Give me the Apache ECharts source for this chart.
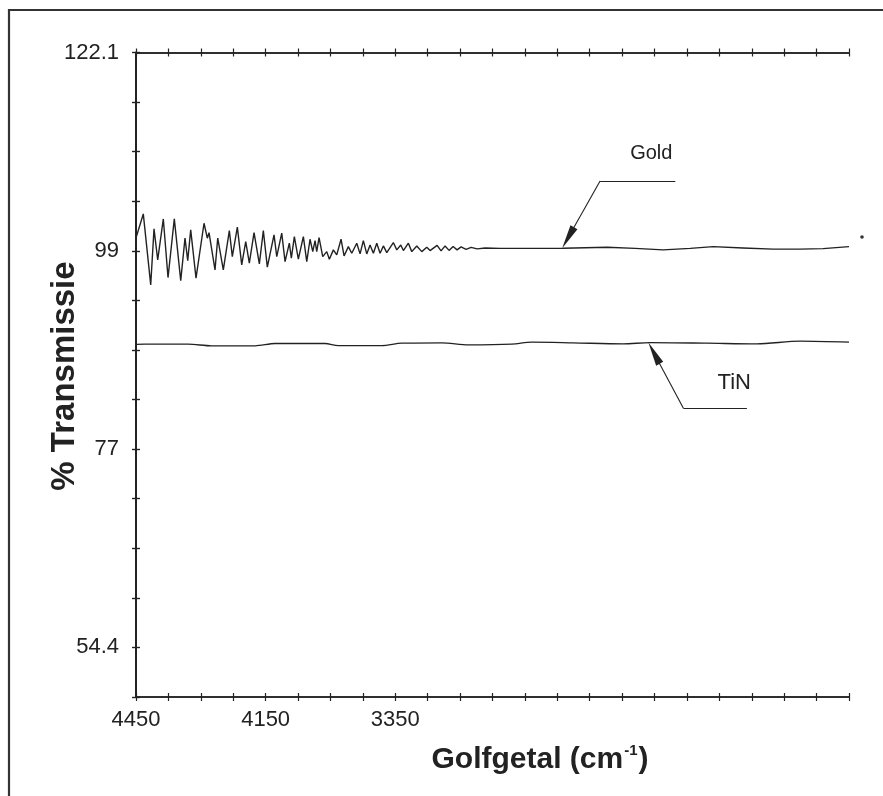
<!DOCTYPE html>
<html><head><meta charset="utf-8">
<script src="https://cdn.jsdelivr.net/npm/echarts@6/dist/echarts.min.js"></script>
<style>html,body{margin:0;padding:0;background:#fff}#c{width:883px;height:796px}</style>
</head><body><div id="c"></div>
<script>
// x axis: position in tick units (22 tick intervals), labelled ticks only at 0, 4, 8
const xTickPos = [0, 4, 8];
const xTickLabels = ['4450', '4150', '3350'];
// y axis: 13 tick intervals, labels at ticks 0,4,8,12 from top
const yTickLabels = ['122.1', '99', '77', '54.4'];
const yTop = 122.1, yLabelBottom = 54.4;

const goldX = [0.00,0.225,0.454,0.556,0.670,0.843,0.988,1.182,1.380,1.512,
  1.596,1.688,1.852,2.099,2.201,2.253,2.438,2.522,2.694,2.880,
  2.972,3.127,3.262,3.386,3.497,3.642,3.806,3.929,4.052,4.259,
  4.343,4.497,4.599,4.731,4.793,4.886,5.009,5.164,5.269,5.370,
  5.454,5.525,5.577,5.648,5.762,5.886,5.966,6.090,6.194,6.327,
  6.420,6.552,6.657,6.812,6.914,7.015,7.120,7.222,7.324,7.429,
  7.531,7.633,7.738,7.941,8.046,8.170,8.250,8.404,8.509,8.664,
  8.818,8.972,9.074,9.290,9.414,9.537,9.660,9.784,9.907,10.031,
  10.185,10.340,10.525,10.772,11.235,12.160,13.179,14.537,15.40,16.265,
  17.10,17.81,18.73,19.66,20.49,21.20,22.0];
const goldY = [101.00,103.73,95.66,102.03,98.50,103.16,96.49,103.16,96.14,100.97,
  98.42,101.91,96.42,102.67,100.97,101.60,97.36,100.97,97.36,101.83,
  98.87,102.22,97.93,100.58,98.12,101.60,98.04,101.83,97.67,101.34,
  98.87,101.54,98.31,100.40,98.69,101.15,98.58,101.15,98.31,100.85,
  99.44,100.69,99.44,101.04,98.87,99.44,98.58,99.64,99.07,100.85,
  98.95,100.01,99.26,100.40,99.18,100.69,99.18,100.20,99.26,100.40,
  99.26,100.09,99.33,100.47,99.64,100.20,99.56,100.40,99.44,100.09,
  99.44,99.94,99.56,100.15,99.52,100.09,99.58,100.03,99.64,99.98,
  99.70,99.92,99.75,99.86,99.81,99.81,99.83,99.94,99.81,99.64,
  99.81,100.01,99.86,99.72,99.72,99.78,100.01];

const tinX = [0,0.278,1.605,2.336,3.673,4.290,5.833,6.244,7.583,8.201,9.435,10.256,11.596,12.213,13.488,15.031,15.864,17.614,19.157,20.494,22.0];
const tinY = [88.89,88.91,88.91,88.72,88.72,88.98,88.98,88.75,88.75,89.02,89.06,88.83,88.91,89.14,89.06,88.94,89.09,89.02,88.94,89.25,89.14];

// annotations (data coordinates): elbow, tip, end of the leader line
const goldArrow = [[14.32,107.48],[13.15,99.83],[16.64,107.48]];
const goldText = [15.90,110.56];
const tinArrow = [[16.89,81.63],[15.81,89.09],[18.85,81.63]];
const tinText = [18.46,84.51];

const yStep = (yTop - yLabelBottom) / 12;
const yMin = yTop - 13 * yStep;
const yTicks = [];
for (let k = 0; k <= 13; k++) yTicks.push(yTop - k * yStep);
const yLabelVals = [0,4,8,12].map(k => yTop - k * yStep);

const INK = '#222';
const sans = '"Liberation Sans", Arial, sans-serif';

function xAx(grid, pos, inside, labels) {
  return {
    type: 'value', gridIndex: grid, position: pos, min: 0, max: 22, interval: 1,
    axisLine: { show: true, lineStyle: { color: INK, width: 1.5 } },
    axisTick: { show: true, inside: inside, length: 4, lineStyle: { color: INK, width: 1.2 } },
    splitLine: { show: false },
    axisLabel: labels ? {
      show: true, interval: 0, margin: 12, color: INK, fontFamily: sans, fontSize: 22,
      showMinLabel: true, showMaxLabel: true,
      formatter: v => { const r = Math.round(v); const i = xTickPos.indexOf(r); return (i >= 0 && Math.abs(v - r) < 1e-6) ? xTickLabels[i] : ''; }
    } : { show: false }
  };
}
function yAx(grid, pos, inside, labels) {
  return {
    type: 'value', gridIndex: grid, position: pos, min: yMin, max: yTop,
    axisLine: { show: true, lineStyle: { color: INK, width: 1.5 } },
    axisTick: { show: true, inside: inside, length: 4, customValues: yTicks, lineStyle: { color: INK, width: 1.2 } },
    splitLine: { show: false },
    axisLabel: labels ? {
      show: true, margin: 17, color: INK, fontFamily: sans, fontSize: 22,
      customValues: yLabelVals,
      formatter: v => { let best = 0, d = 1e9; yLabelVals.forEach((lv, i) => { if (Math.abs(lv - v) < d) { d = Math.abs(lv - v); best = i; } }); return yTickLabels[best]; }
    } : { show: false }
  };
}

const gridRect = { left: 136, top: 52.5, width: 713, height: 644.5 };
const chart = echarts.init(document.getElementById('c'), null, { renderer: 'canvas' });

chart.setOption({
  animation: false,
  backgroundColor: '#fff',
  grid: [Object.assign({}, gridRect), Object.assign({}, gridRect)],
  xAxis: [xAx(0, 'bottom', false, true), xAx(0, 'top', false, false), xAx(1, 'bottom', true, false), xAx(1, 'top', true, false)],
  yAxis: [yAx(0, 'left', false, true), yAx(0, 'right', false, false), yAx(1, 'left', true, false), yAx(1, 'right', true, false)],
  series: [
    {
      name: 'Gold', type: 'line', xAxisIndex: 0, yAxisIndex: 0, showSymbol: false, symbol: 'none',
      data: goldX.map((x, i) => [x, goldY[i]]),
      lineStyle: { color: INK, width: 1.4 }
    },
    {
      name: 'TiN', type: 'line', xAxisIndex: 0, yAxisIndex: 0, showSymbol: false, symbol: 'none',
      smooth: 0.3,
      data: tinX.map((x, i) => [x, tinY[i]]),
      lineStyle: { color: INK, width: 1.35 }
    }
  ]
});

const ref = { xAxisIndex: 0, yAxisIndex: 0 };
const ARROW_LEN = 24;
// pull the arrow end back so the triangle's tip (not its centre) lands on the curve
function arrowLine(a) {
  const e = chart.convertToPixel(ref, a[0]);
  const t = chart.convertToPixel(ref, a[1]);
  const dx = t[0] - e[0], dy = t[1] - e[1], L = Math.hypot(dx, dy);
  const c = chart.convertFromPixel(ref, [t[0] - dx / L * ARROW_LEN / 2, t[1] - dy / L * ARROW_LEN / 2]);
  return [
    [{ coord: a[0], symbol: 'none' }, { coord: c, symbol: 'triangle', symbolSize: [8, ARROW_LEN] }],
    [{ coord: a[0], symbol: 'none' }, { coord: a[2], symbol: 'none' }]
  ];
}

const gp = chart.convertToPixel(ref, goldText);
const tp = chart.convertToPixel(ref, tinText);

chart.setOption({
  series: [{
    markLine: {
      silent: true, animation: false, label: { show: false },
      lineStyle: { color: INK, width: 1.1, type: 'solid' },
      itemStyle: { color: INK },
      data: arrowLine(goldArrow).concat(arrowLine(tinArrow))
    }
  }],
  graphic: [
    { type: 'polyline', silent: true, shape: { points: [[9, 796], [9, 10], [883, 10]] }, style: { stroke: '#333', lineWidth: 2.2, fill: null } },
    { type: 'text', silent: true, x: gp[0], y: gp[1], style: { text: 'Gold', font: '20px ' + sans, fill: INK, align: 'center', verticalAlign: 'middle' } },
    { type: 'text', silent: true, x: tp[0], y: tp[1], style: { text: 'TiN', font: '22px ' + sans, fill: INK, align: 'center', verticalAlign: 'middle' } },
    { type: 'circle', silent: true, shape: { cx: 862, cy: 237, r: 1.8 }, style: { fill: '#333' } },
    {
      type: 'text', silent: true, x: 65, y: 376, rotation: Math.PI / 2,
      style: { text: '% Transmissie', font: 'bold 33px ' + sans, fill: INK, align: 'center', verticalAlign: 'middle' }
    },
    {
      type: 'text', silent: true, x: 540, y: 760,
      style: {
        text: '{b|Golfgetal (cm}{s|-1}{b|)}', align: 'center', verticalAlign: 'middle',
        rich: {
          b: { fontFamily: sans, fontWeight: 'bold', fontSize: 30, fill: INK, lineHeight: 34 },
          s: { fontFamily: sans, fontWeight: 'bold', fontSize: 15, fill: INK, lineHeight: 34, verticalAlign: 'top', padding: [0, 1, 0, 1] }
        }
      }
    }
  ]
});
</script>
</body></html>
